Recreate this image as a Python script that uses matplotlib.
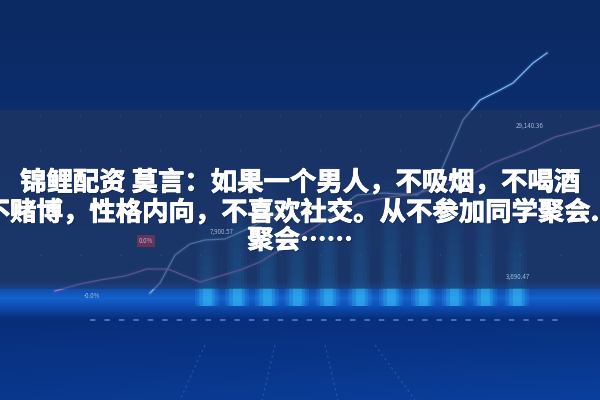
import matplotlib.pyplot as plt
import matplotlib.patheffects as pe
import numpy as np

plt.rcParams['font.family'] = ['Noto Sans CJK SC', 'DejaVu Sans']

# title text, three lines
title_lines = ['锦鲤配资 莫言：如果一个男人，不吸烟，不喝酒',
               '不赌博，性格内向，不喜欢社交。从不参加同学聚会...',
               '聚会……']
title_y = [183, 213, 241]

# light blue price line
blue_x = [150, 160, 175, 190, 205, 225, 245, 265, 285, 305, 325, 340, 357,
          383, 417, 437, 450, 463, 480, 500, 513, 533, 547]
blue_y = [293, 283, 255, 244, 240, 239, 230, 220, 210, 205, 207, 207, 195,
          193, 195, 180, 150, 120, 100, 90, 83, 63, 53]

# purple line
purple_x = [55, 80, 100, 125, 147, 168, 185, 200, 220, 240, 260, 280, 300,
            330, 360, 390, 415, 440, 467, 493, 527, 555, 600]
purple_y = [291, 284, 280, 276, 269, 269, 276, 282, 276, 270, 262, 250, 236,
            218, 203, 197, 194, 187, 177, 163, 150, 137, 125]

# glowing columns
bar_x = [207, 237, 267, 297, 328, 360, 391, 423, 454, 485, 517]
bar_top = [225, 190, 175, 205, 165, 195, 180, 190, 205, 175, 215]
bar_base = 306

# small labels
label_text = ['29,140.36', '3,690.47', '7,900.57', '-0.0%', '0.0%']
label_x = [530, 518, 222, 92, 146]
label_y = [126, 277, 232, 296, 241]

fig = plt.figure(figsize=(6, 4), dpi=100)
ax = fig.add_axes([0, 0, 1, 1])
ax.set_xlim(0, 600)
ax.set_ylim(400, 0)
ax.axis('off')

# background gradient
yy = np.arange(400)
stops = [0, 100, 280, 289, 298, 308, 318, 400]
r = np.interp(yy, stops, [11, 12, 14, 16, 20, 14, 8, 10])
g = np.interp(yy, stops, [41, 45, 52, 78, 98, 72, 46, 56])
b = np.interp(yy, stops, [98, 108, 118, 175, 205, 170, 122, 142])
col = np.stack([r, g, b], axis=1) / 255.0
img = np.repeat(col[:, None, :], 600, axis=1)
xx = np.linspace(0, 1, 600)
bright = np.clip((yy[:, None] - 300) / 100, 0, 1) * (0.5 * xx[None, :])
img = np.clip(img + bright[:, :, None] * np.array([0.0, 0.06, 0.12]), 0, 1)
ax.imshow(img, extent=[0, 600, 400, 0], aspect='auto', zorder=0)

# faint grid dots
for gy in [115, 150, 255]:
    ax.scatter(np.arange(40, 600, 40), [gy] * 14, s=2, color='#6f9be0',
               alpha=0.35, lw=0, zorder=1)

# glowing columns, soft edges by stacking translucent bars
for wdt in [20, 14, 8]:
    for k in range(10):
        frac = (k + 1) / 10
        heights = [(t - bar_base) * frac for t in bar_top]
        ax.bar(bar_x, heights, bottom=bar_base, width=wdt, color='#3aa8ff',
               alpha=0.025, lw=0, zorder=2)
for wdt, a in [(24, 0.12), (16, 0.18), (9, 0.25)]:
    ax.bar(bar_x, [-18] * len(bar_x), bottom=bar_base, width=wdt,
           color='#45d0ff', alpha=a, lw=0, zorder=2)

# lines with faint glow
ax.plot(blue_x, blue_y, color='#7ab8ff', lw=3, alpha=0.12, zorder=3)
ax.plot(purple_x, purple_y, color='#a07ee0', lw=3, alpha=0.12, zorder=3)
ax.plot(blue_x, blue_y, color='#80b4f2', lw=0.9, zorder=3)
ax.plot(purple_x, purple_y, color='#9478d0', lw=0.9, zorder=3)

# dashed floor line
ax.plot([90, 560], [320, 320], color='#7fb6ff', lw=1.3, alpha=0.55,
        dashes=(3, 5), zorder=3)

# perspective lines on the floor
for x0, x1 in [(205, 180), (275, 262), (325, 338), (375, 415)]:
    ax.plot([x0, x1], [345, 400], color='#5d95e0', lw=0.8, alpha=0.35,
            dashes=(2, 3), zorder=3)

# darker overlay band behind title
ax.axhspan(110, 289, color='#25385f', alpha=0.55, lw=0, zorder=4)

for t, x, y in zip(label_text, label_x, label_y):
    box = None
    if t == '0.0%':
        box = dict(boxstyle='square,pad=0.3', fc='#7a3358', ec='none',
                   alpha=0.8)
    ax.text(x, y, t, color='#c8d4ea', fontsize=4.5, ha='center',
            va='center', alpha=0.8, zorder=5, bbox=box)

for t, y in zip(title_lines, title_y):
    ax.text(300, y, t, color='white', fontsize=19, fontweight='bold',
            ha='center', va='center', zorder=6,
            path_effects=[pe.withSimplePatchShadow(offset=(1, -1),
                                                   shadow_rgbFace='#0a1530',
                                                   alpha=0.4),
                          pe.withStroke(linewidth=0.6, foreground='white')])

plt.savefig('out.png', dpi=100)
